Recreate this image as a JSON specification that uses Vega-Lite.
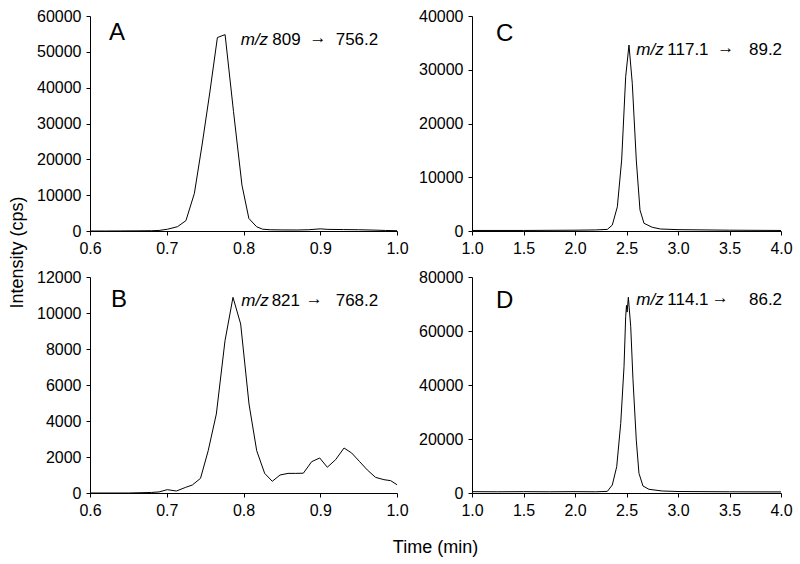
{
  "$schema": "https://vega.github.io/schema/vega-lite/v6.json",
  "padding": {"left": 8, "top": 8, "right": 5, "bottom": 5},
  "background": "#ffffff",
  "config": {
    "font": "Liberation Sans",
    "view": {"stroke": null},
    "axis": {
      "grid": false,
      "domainColor": "#000000",
      "tickColor": "#000000",
      "labelColor": "#000000",
      "labelFont": "Liberation Sans",
      "labelFontSize": 16,
      "tickSize": 4,
      "labelPadding": 5,
      "domainWidth": 1,
      "tickWidth": 1,
      "labelFlush": false,
      "labelOverlap": false,
      "labelBound": false,
      "titleFont": "Liberation Sans",
      "titleFontSize": 18,
      "titleFontWeight": "normal",
      "titleColor": "#000000"
    },
    "text": {"font": "Liberation Sans", "color": "#000000"}
  },
  "datasets": {
    "A": [
      {"t": 0.600, "i": 0}, {"t": 0.620, "i": 0}, {"t": 0.640, "i": 20}, {"t": 0.660, "i": 40},
      {"t": 0.680, "i": 80}, {"t": 0.690, "i": 150}, {"t": 0.701, "i": 500}, {"t": 0.714, "i": 1200},
      {"t": 0.725, "i": 2900}, {"t": 0.736, "i": 10500}, {"t": 0.746, "i": 24000}, {"t": 0.756, "i": 38500},
      {"t": 0.766, "i": 54000}, {"t": 0.776, "i": 54800}, {"t": 0.787, "i": 33300}, {"t": 0.798, "i": 12800},
      {"t": 0.807, "i": 3500}, {"t": 0.817, "i": 1200}, {"t": 0.825, "i": 500}, {"t": 0.835, "i": 350},
      {"t": 0.850, "i": 300}, {"t": 0.870, "i": 280}, {"t": 0.885, "i": 350}, {"t": 0.900, "i": 600},
      {"t": 0.910, "i": 450}, {"t": 0.930, "i": 400}, {"t": 0.950, "i": 350}, {"t": 0.970, "i": 250},
      {"t": 0.985, "i": 150}, {"t": 1.000, "i": 80}
    ],
    "B": [
      {"t": 0.600, "i": 0}, {"t": 0.650, "i": 0}, {"t": 0.680, "i": 30}, {"t": 0.690, "i": 60},
      {"t": 0.7007, "i": 185}, {"t": 0.7125, "i": 110}, {"t": 0.7247, "i": 315}, {"t": 0.7333, "i": 444},
      {"t": 0.744, "i": 815}, {"t": 0.754, "i": 2350}, {"t": 0.7646, "i": 4390}, {"t": 0.7759, "i": 8460},
      {"t": 0.7863, "i": 10870}, {"t": 0.7963, "i": 9390}, {"t": 0.8072, "i": 4940}, {"t": 0.8172, "i": 2350},
      {"t": 0.8276, "i": 1090}, {"t": 0.8375, "i": 650}, {"t": 0.8476, "i": 1000}, {"t": 0.858, "i": 1090},
      {"t": 0.868, "i": 1090}, {"t": 0.878, "i": 1100}, {"t": 0.8888, "i": 1740}, {"t": 0.8993, "i": 1945},
      {"t": 0.9092, "i": 1430}, {"t": 0.92, "i": 1850}, {"t": 0.931, "i": 2500}, {"t": 0.941, "i": 2220},
      {"t": 0.9514, "i": 1740}, {"t": 0.9613, "i": 1280}, {"t": 0.972, "i": 870}, {"t": 0.983, "i": 740},
      {"t": 0.9918, "i": 685}, {"t": 1.0, "i": 460}
    ],
    "C": [
      {"t": 1.0, "i": 100}, {"t": 1.5, "i": 100}, {"t": 2.0, "i": 150}, {"t": 2.2, "i": 200},
      {"t": 2.314, "i": 300}, {"t": 2.362, "i": 1100}, {"t": 2.411, "i": 4500}, {"t": 2.453, "i": 13200},
      {"t": 2.492, "i": 28700}, {"t": 2.524, "i": 34600}, {"t": 2.556, "i": 27500}, {"t": 2.595, "i": 13200},
      {"t": 2.631, "i": 3900}, {"t": 2.67, "i": 1430}, {"t": 2.75, "i": 690}, {"t": 2.83, "i": 370},
      {"t": 3.0, "i": 250}, {"t": 3.5, "i": 150}, {"t": 4.0, "i": 100}
    ],
    "D": [
      {"t": 1.0, "i": 500}, {"t": 1.25, "i": 450}, {"t": 1.5, "i": 500}, {"t": 1.75, "i": 450},
      {"t": 2.0, "i": 500}, {"t": 2.2, "i": 450}, {"t": 2.314, "i": 600}, {"t": 2.362, "i": 2960},
      {"t": 2.405, "i": 9740}, {"t": 2.444, "i": 25800}, {"t": 2.476, "i": 46800}, {"t": 2.492, "i": 65300},
      {"t": 2.5, "i": 69500}, {"t": 2.506, "i": 67000}, {"t": 2.518, "i": 72500}, {"t": 2.541, "i": 61600},
      {"t": 2.563, "i": 41900}, {"t": 2.595, "i": 19600}, {"t": 2.621, "i": 7300}, {"t": 2.66, "i": 2600},
      {"t": 2.718, "i": 1370}, {"t": 2.848, "i": 740}, {"t": 3.0, "i": 550}, {"t": 3.5, "i": 450},
      {"t": 4.0, "i": 400}
    ],
    "notes": [
      {"panel": "A", "kind": "letter", "label": "A", "t": 0.6248, "i": 55120},
      {"panel": "A", "kind": "mz", "label": "m/z", "t": 0.7964, "i": 53300},
      {"panel": "A", "kind": "txt", "label": "809", "t": 0.8375, "i": 53300},
      {"panel": "A", "kind": "arrow", "label": "→", "t": 0.886, "i": 53300},
      {"panel": "A", "kind": "txt", "label": "756.2", "t": 0.9201, "i": 53300},
      {"panel": "B", "kind": "letter", "label": "B", "t": 0.6274, "i": 10720},
      {"panel": "B", "kind": "mz", "label": "m/z", "t": 0.7972, "i": 10680},
      {"panel": "B", "kind": "txt", "label": "821", "t": 0.8367, "i": 10680},
      {"panel": "B", "kind": "arrow", "label": "→", "t": 0.881, "i": 10680},
      {"panel": "B", "kind": "txt", "label": "768.2", "t": 0.9201, "i": 10680},
      {"panel": "C", "kind": "letter", "label": "C", "t": 1.233, "i": 36650},
      {"panel": "C", "kind": "mz", "label": "m/z", "t": 2.595, "i": 33670},
      {"panel": "C", "kind": "txt", "label": "117.1", "t": 2.896, "i": 33670},
      {"panel": "C", "kind": "arrow", "label": "→", "t": 3.382, "i": 33670},
      {"panel": "C", "kind": "txt", "label": "89.2", "t": 3.689, "i": 33670},
      {"panel": "D", "kind": "letter", "label": "D", "t": 1.233, "i": 71100},
      {"panel": "D", "kind": "mz", "label": "m/z", "t": 2.595, "i": 71480},
      {"panel": "D", "kind": "txt", "label": "114.1", "t": 2.896, "i": 71480},
      {"panel": "D", "kind": "arrow", "label": "→", "t": 3.327, "i": 71480},
      {"panel": "D", "kind": "txt", "label": "86.2", "t": 3.689, "i": 71480}
    ]
  },
  "columns": 2,
  "bounds": "flush",
  "spacing": {"row": 46, "column": 75},
  "concat": [
    {
      "width": 307, "height": 215,
      "encoding": {
        "x": {"field": "t", "type": "quantitative", "scale": {"domain": [0.6, 1.0], "nice": false, "zero": false},
              "axis": {"values": [0.6, 0.7, 0.8, 0.9, 1.0], "format": ".1f", "title": null}},
        "y": {"field": "i", "type": "quantitative", "scale": {"domain": [0, 60000], "nice": false},
              "axis": {"values": [0, 10000, 20000, 30000, 40000, 50000, 60000], "format": "d",
                       "title": "Intensity (cps)", "titleX": -73, "titleY": 236, "titleAngle": -90,
                       "titleAlign": "center", "titleBaseline": "middle"}}
      },
      "layer": [
        {"data": {"name": "A"}, "mark": {"type": "line", "color": "#000000", "strokeWidth": 1}},
        {"data": {"name": "notes"}, "transform": [{"filter": "datum.panel == 'A' && datum.kind == 'letter'"}],
         "mark": {"type": "text", "fontSize": 24, "align": "left", "baseline": "middle"}, "encoding": {"text": {"field": "label"}}},
        {"data": {"name": "notes"}, "transform": [{"filter": "datum.panel == 'A' && datum.kind == 'mz'"}],
         "mark": {"type": "text", "fontSize": 17, "fontStyle": "italic", "align": "left", "baseline": "middle"}, "encoding": {"text": {"field": "label"}}},
        {"data": {"name": "notes"}, "transform": [{"filter": "datum.panel == 'A' && datum.kind == 'txt'"}],
         "mark": {"type": "text", "fontSize": 17, "align": "left", "baseline": "middle"}, "encoding": {"text": {"field": "label"}}},
        {"data": {"name": "notes"}, "transform": [{"filter": "datum.panel == 'A' && datum.kind == 'arrow'"}],
         "mark": {"type": "text", "fontSize": 17, "align": "left", "baseline": "middle", "dy": -2}, "encoding": {"text": {"field": "label"}}}
      ]
    },
    {
      "width": 309, "height": 215,
      "encoding": {
        "x": {"field": "t", "type": "quantitative", "scale": {"domain": [1.0, 4.0], "nice": false, "zero": false},
              "axis": {"values": [1.0, 1.5, 2.0, 2.5, 3.0, 3.5, 4.0], "format": ".1f", "title": null}},
        "y": {"field": "i", "type": "quantitative", "scale": {"domain": [0, 40000], "nice": false},
              "axis": {"values": [0, 10000, 20000, 30000, 40000], "format": "d", "title": null}}
      },
      "layer": [
        {"data": {"name": "C"}, "mark": {"type": "line", "color": "#000000", "strokeWidth": 1}},
        {"data": {"name": "notes"}, "transform": [{"filter": "datum.panel == 'C' && datum.kind == 'letter'"}],
         "mark": {"type": "text", "fontSize": 24, "align": "left", "baseline": "middle"}, "encoding": {"text": {"field": "label"}}},
        {"data": {"name": "notes"}, "transform": [{"filter": "datum.panel == 'C' && datum.kind == 'mz'"}],
         "mark": {"type": "text", "fontSize": 17, "fontStyle": "italic", "align": "left", "baseline": "middle"}, "encoding": {"text": {"field": "label"}}},
        {"data": {"name": "notes"}, "transform": [{"filter": "datum.panel == 'C' && datum.kind == 'txt'"}],
         "mark": {"type": "text", "fontSize": 17, "align": "left", "baseline": "middle"}, "encoding": {"text": {"field": "label"}}},
        {"data": {"name": "notes"}, "transform": [{"filter": "datum.panel == 'C' && datum.kind == 'arrow'"}],
         "mark": {"type": "text", "fontSize": 17, "align": "left", "baseline": "middle", "dy": -2}, "encoding": {"text": {"field": "label"}}}
      ]
    },
    {
      "width": 307, "height": 216,
      "encoding": {
        "x": {"field": "t", "type": "quantitative", "scale": {"domain": [0.6, 1.0], "nice": false, "zero": false},
              "axis": {"values": [0.6, 0.7, 0.8, 0.9, 1.0], "format": ".1f",
                       "title": "Time (min)", "titleX": 345, "titleY": 54, "titleAlign": "center", "titleBaseline": "middle"}},
        "y": {"field": "i", "type": "quantitative", "scale": {"domain": [0, 12000], "nice": false},
              "axis": {"values": [0, 2000, 4000, 6000, 8000, 10000, 12000], "format": "d", "title": null}}
      },
      "layer": [
        {"data": {"name": "B"}, "mark": {"type": "line", "color": "#000000", "strokeWidth": 1}},
        {"data": {"name": "notes"}, "transform": [{"filter": "datum.panel == 'B' && datum.kind == 'letter'"}],
         "mark": {"type": "text", "fontSize": 24, "align": "left", "baseline": "middle"}, "encoding": {"text": {"field": "label"}}},
        {"data": {"name": "notes"}, "transform": [{"filter": "datum.panel == 'B' && datum.kind == 'mz'"}],
         "mark": {"type": "text", "fontSize": 17, "fontStyle": "italic", "align": "left", "baseline": "middle"}, "encoding": {"text": {"field": "label"}}},
        {"data": {"name": "notes"}, "transform": [{"filter": "datum.panel == 'B' && datum.kind == 'txt'"}],
         "mark": {"type": "text", "fontSize": 17, "align": "left", "baseline": "middle"}, "encoding": {"text": {"field": "label"}}},
        {"data": {"name": "notes"}, "transform": [{"filter": "datum.panel == 'B' && datum.kind == 'arrow'"}],
         "mark": {"type": "text", "fontSize": 17, "align": "left", "baseline": "middle", "dy": -2}, "encoding": {"text": {"field": "label"}}}
      ]
    },
    {
      "width": 309, "height": 216,
      "encoding": {
        "x": {"field": "t", "type": "quantitative", "scale": {"domain": [1.0, 4.0], "nice": false, "zero": false},
              "axis": {"values": [1.0, 1.5, 2.0, 2.5, 3.0, 3.5, 4.0], "format": ".1f", "title": null}},
        "y": {"field": "i", "type": "quantitative", "scale": {"domain": [0, 80000], "nice": false},
              "axis": {"values": [0, 20000, 40000, 60000, 80000], "format": "d", "title": null}}
      },
      "layer": [
        {"data": {"name": "D"}, "mark": {"type": "line", "color": "#000000", "strokeWidth": 1}},
        {"data": {"name": "notes"}, "transform": [{"filter": "datum.panel == 'D' && datum.kind == 'letter'"}],
         "mark": {"type": "text", "fontSize": 24, "align": "left", "baseline": "middle"}, "encoding": {"text": {"field": "label"}}},
        {"data": {"name": "notes"}, "transform": [{"filter": "datum.panel == 'D' && datum.kind == 'mz'"}],
         "mark": {"type": "text", "fontSize": 17, "fontStyle": "italic", "align": "left", "baseline": "middle"}, "encoding": {"text": {"field": "label"}}},
        {"data": {"name": "notes"}, "transform": [{"filter": "datum.panel == 'D' && datum.kind == 'txt'"}],
         "mark": {"type": "text", "fontSize": 17, "align": "left", "baseline": "middle"}, "encoding": {"text": {"field": "label"}}},
        {"data": {"name": "notes"}, "transform": [{"filter": "datum.panel == 'D' && datum.kind == 'arrow'"}],
         "mark": {"type": "text", "fontSize": 17, "align": "left", "baseline": "middle", "dy": -2}, "encoding": {"text": {"field": "label"}}}
      ]
    }
  ]
}
